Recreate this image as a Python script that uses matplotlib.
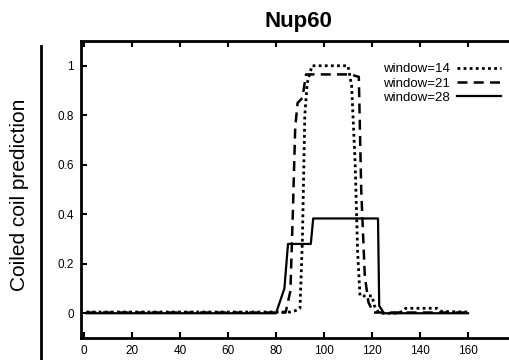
import matplotlib
matplotlib.use('Agg')
import matplotlib.pyplot as plt
from matplotlib.lines import Line2D

plt.rcParams['font.family'] = ['Liberation Sans', 'DejaVu Sans']

# window=14 (dotted)
x14 = [1, 86, 88, 90, 91, 92, 93, 95, 110, 111.5, 113, 114, 115, 120, 121, 123,
       131, 133, 134, 147, 149, 160]
y14 = [0.005, 0.005, 0.01, 0.02, 0.3, 0.8, 0.93, 1.0, 1.0, 0.92, 0.6, 0.25, 0.07,
       0.07, 0.03, 0.0, 0.0, 0.01, 0.02, 0.02, 0.007, 0.005]

# window=21 (dashed)
x21 = [1, 84, 86, 87, 88, 89, 91, 92.5, 111, 114.5, 115.5, 117, 118.5, 120.5, 160]
y21 = [0.003, 0.003, 0.09, 0.4, 0.75, 0.85, 0.87, 0.965, 0.965, 0.955, 0.5, 0.15,
       0.045, 0.003, 0.003]

# window=28 (solid)
x28 = [1, 80, 83.5, 85, 94.5, 95.5, 122.5, 123, 125, 160]
y28 = [0, 0, 0.10, 0.28, 0.28, 0.383, 0.383, 0.03, 0, 0]

xticks = [0, 20, 40, 60, 80, 100, 120, 140, 160, 180]
xtick_labels = ['0', '20', '40', '60', '80', '100', '120', '140', '160', '']
yticks = [0, 0.2, 0.4, 0.6, 0.8, 1]
ytick_labels = ['0', '0.2', '0.4', '0.6', '0.8', '1']

fig = plt.figure(figsize=(5.1, 3.6), dpi=100)
ax = fig.add_axes([0.1588, 0.0611, 0.853, 0.825])

l14, = ax.plot(x14, y14, color='black', lw=2, linestyle=(0, (1, 1.2)), label='window=14')
l21, = ax.plot(x21, y21, color='black', lw=1.8, linestyle=(0, (4, 2.5)), label='window=21')
l28, = ax.plot(x28, y28, color='black', lw=1.6, linestyle='-', label='window=28')

ax.set_xlim(-1.25, 180)
ax.set_ylim(-0.1, 1.1)
ax.set_xticks(xticks)
ax.set_xticklabels(xtick_labels)
ax.set_yticks(yticks)
ax.set_yticklabels(ytick_labels)
ax.tick_params(direction='in', length=4, width=1.5, labelsize=8.5,
               top=True, right=True, pad=5)
for s in ax.spines.values():
    s.set_linewidth(2)

ax.set_title('Nup60', fontsize=16, fontweight='bold', pad=10)

leg = fig.legend(handles=[l14, l21, l28], loc='upper right',
                 bbox_to_anchor=(0.995, 0.843), frameon=False, markerfirst=False,
                 fontsize=9.5, handlelength=3.3, handletextpad=0.6,
                 labelspacing=0.15, borderpad=0)

fig.text(0.038, 0.46, 'Coiled coil prediction', rotation=90, fontsize=15,
         ha='center', va='center')
fig.add_artist(Line2D([41 / 510, 41 / 510], [0, 1 - 46 / 360], color='black', lw=2))

fig.savefig('out.png', dpi=100)
